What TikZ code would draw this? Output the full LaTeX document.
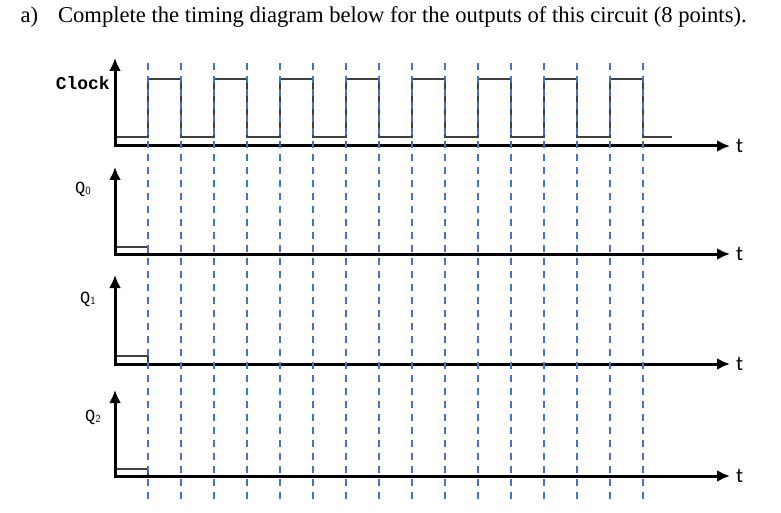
\documentclass[tikz,border=0pt]{standalone}
\usepackage{fontspec}
\setmainfont{Liberation Serif}
\newfontfamily\monofont{Liberation Mono}
\newfontfamily\calfont{Carlito}
\usetikzlibrary{arrows.meta}
\definecolor{gridblue}{RGB}{68,114,196}
\tikzset{>={Latex[length=13pt,width=12pt]}}

\begin{document}
\begin{tikzpicture}[x=1pt,y=-1pt]
\useasboundingbox (0,0) rectangle (781,513);
% title
\node[anchor=west,font=\fontsize{22.6}{26}\selectfont] (title) at (17,17) {a)\hspace{20pt}Complete the timing diagram below for the outputs of this circuit (8 points).};

% corners of the axes
\coordinate (C) at (115,146);
\coordinate (A) at (115,254);
\coordinate (B) at (115,364);
\coordinate (D) at (115,476);
\coordinate (Ctop) at (115,58);
\coordinate (Atop) at (115,167);
\coordinate (Btop) at (115,275);
\coordinate (Dtop) at (115,390);

\begin{scope}[every node/.style={font=\calfont\fontsize{21}{23}\selectfont,anchor=west,inner sep=0pt,inner xsep=6pt}]
\node (tC) at (730,146) {t};
\node (tA) at (730,254) {t};
\node (tB) at (730,364) {t};
\node (tD) at (730,476) {t};
\end{scope}

\begin{scope}[every node/.style={inner sep=1pt}]
\node[anchor=east,font=\monofont\bfseries\fontsize{18}{20}\selectfont] (clk) at (111,83) {Clock};
\node[font=\monofont\fontsize{17}{19}\selectfont] (q0) at (83,189) {Q\raisebox{-1pt}{\sffamily\fontsize{11}{12}\selectfont 0}};
\node[font=\monofont\fontsize{17}{19}\selectfont] (q1) at (88,299) {Q\raisebox{-1pt}{\sffamily\fontsize{11}{12}\selectfont 1}};
\node[font=\monofont\fontsize{17}{19}\selectfont] (q2) at (93,417) {Q\raisebox{-1pt}{\sffamily\fontsize{11}{12}\selectfont 2}};
\end{scope}

\begin{scope}[every path/.style={draw=black!75,line width=1.1pt}]
% clock
\draw (117,137) \foreach \i in {0,...,7}{ -- ({148+66*\i},137) -- ({148+66*\i},79) -- ({181+66*\i},79) -- ({181+66*\i},137)} -- (672,137);
% outputs, start low
\draw (117,247) -- (148,247) -- (148,254);
\draw (117,356) -- (148,356) -- (148,364);
\draw (117,469) -- (148,469) -- (148,476);
\end{scope}

\begin{scope}[every path/.style={draw=black,line width=3pt}]
\path [<->] (Ctop) |- (tC.west);
\path [<->] (Atop) |- (tA.west);
\path [<->] (Btop) |- (tB.west);
\path [<->] (Dtop) |- (tD.west);
\end{scope}

% clock edges
\foreach \i in {0,...,15}
  \draw[gridblue,line width=1.4pt,dash pattern=on 7pt off 6pt] ({148+33*\i},63) -- ({148+33*\i},503);
\end{tikzpicture}
\end{document}
